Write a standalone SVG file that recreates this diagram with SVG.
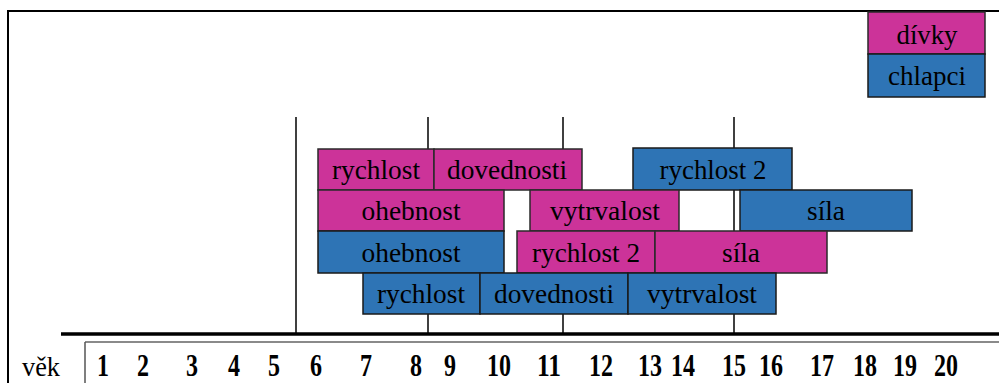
<svg xmlns="http://www.w3.org/2000/svg" width="999" height="383" viewBox="0 0 999 383">
<style>
.g{fill:#CC3399;stroke:#2a2a2a;stroke-width:1.5}
.b{fill:#2E74B5;stroke:#1a1a1a;stroke-width:1.5}
.t{font-family:"Liberation Serif","Times New Roman","DejaVu Serif",serif;font-size:28px;fill:#000;text-anchor:middle}
.n{font-family:"Liberation Serif","Times New Roman","DejaVu Serif",serif;font-size:31px;font-weight:bold;fill:#000;text-anchor:middle}
.v{stroke:#000;stroke-width:1.5}
</style>
<rect width="999" height="383" fill="#fff"/>
<g id="frame" fill="none">
<path d="M8 383V11H999" stroke="#000" stroke-width="2"/>
<path d="M61 334H999" stroke="#000" stroke-width="3.5"/>
<path d="M85 342H999" stroke="#8a8a8a" stroke-width="2"/>
<path d="M85 342V383" stroke="#555" stroke-width="1.5"/>
</g>
<g id="connectors">
<line class="v" x1="296" y1="117" x2="296" y2="333"/>
<line class="v" x1="428" y1="117" x2="428" y2="333"/>
<line class="v" x1="563" y1="117" x2="563" y2="333"/>
<line class="v" x1="734" y1="117" x2="734" y2="333"/>
</g>
<g id="legend-divky"><rect class="g" x="868" y="12" width="117" height="42"/><text class="t" x="927" y="44" textLength="61" lengthAdjust="spacingAndGlyphs">dívky</text></g>
<g id="legend-chlapci"><rect class="b" x="868" y="54" width="117" height="43"/><text class="t" x="927" y="85" textLength="78" lengthAdjust="spacingAndGlyphs">chlapci</text></g>
<g id="d-rychlost"><rect class="g" x="318" y="149" width="116" height="41"/><text class="t" x="376" y="179" textLength="88" lengthAdjust="spacingAndGlyphs">rychlost</text></g>
<g id="d-dovednosti"><rect class="g" x="434" y="149" width="148" height="41"/><text class="t" x="507" y="179" textLength="120" lengthAdjust="spacingAndGlyphs">dovednosti</text></g>
<g id="c-rychlost2"><rect class="b" x="633" y="148" width="159" height="42"/><text class="t" x="713" y="179" textLength="107" lengthAdjust="spacingAndGlyphs">rychlost 2</text></g>
<g id="d-ohebnost"><rect class="g" x="318" y="190" width="186" height="41"/><text class="t" x="411" y="220" textLength="99" lengthAdjust="spacingAndGlyphs">ohebnost</text></g>
<g id="d-vytrvalost"><rect class="g" x="530" y="190" width="149" height="41"/><text class="t" x="605" y="220" textLength="110" lengthAdjust="spacingAndGlyphs">vytrvalost</text></g>
<g id="c-sila"><rect class="b" x="740" y="190" width="172" height="41"/><text class="t" x="826" y="220" textLength="38" lengthAdjust="spacingAndGlyphs">síla</text></g>
<g id="c-ohebnost"><rect class="b" x="318" y="231" width="186" height="42"/><text class="t" x="411" y="262" textLength="99" lengthAdjust="spacingAndGlyphs">ohebnost</text></g>
<g id="d-rychlost2"><rect class="g" x="517" y="231" width="138" height="42"/><text class="t" x="586" y="262" textLength="108" lengthAdjust="spacingAndGlyphs">rychlost 2</text></g>
<g id="d-sila"><rect class="g" x="655" y="231" width="172" height="42"/><text class="t" x="741" y="262" textLength="38" lengthAdjust="spacingAndGlyphs">síla</text></g>
<g id="c-rychlost"><rect class="b" x="363" y="273" width="117" height="41"/><text class="t" x="421" y="303" textLength="88" lengthAdjust="spacingAndGlyphs">rychlost</text></g>
<g id="c-dovednosti"><rect class="b" x="480" y="273" width="148" height="41"/><text class="t" x="554" y="303" textLength="120" lengthAdjust="spacingAndGlyphs">dovednosti</text></g>
<g id="c-vytrvalost"><rect class="b" x="628" y="273" width="148" height="41"/><text class="t" x="702" y="303" textLength="110" lengthAdjust="spacingAndGlyphs">vytrvalost</text></g>
<g id="axis-labels">
<text class="t" x="41" y="376" textLength="38" lengthAdjust="spacingAndGlyphs">věk</text>
<text class="n" x="103" y="376" textLength="12" lengthAdjust="spacingAndGlyphs">1</text>
<text class="n" x="143" y="376" textLength="12" lengthAdjust="spacingAndGlyphs">2</text>
<text class="n" x="192" y="376" textLength="12" lengthAdjust="spacingAndGlyphs">3</text>
<text class="n" x="234" y="376" textLength="12" lengthAdjust="spacingAndGlyphs">4</text>
<text class="n" x="274" y="376" textLength="12" lengthAdjust="spacingAndGlyphs">5</text>
<text class="n" x="316" y="376" textLength="12" lengthAdjust="spacingAndGlyphs">6</text>
<text class="n" x="366" y="376" textLength="12" lengthAdjust="spacingAndGlyphs">7</text>
<text class="n" x="416" y="376" textLength="12" lengthAdjust="spacingAndGlyphs">8</text>
<text class="n" x="450" y="376" textLength="12" lengthAdjust="spacingAndGlyphs">9</text>
<text class="n" x="499" y="376" textLength="24" lengthAdjust="spacingAndGlyphs">10</text>
<text class="n" x="549" y="376" textLength="24" lengthAdjust="spacingAndGlyphs">11</text>
<text class="n" x="601" y="376" textLength="24" lengthAdjust="spacingAndGlyphs">12</text>
<text class="n" x="650" y="376" textLength="24" lengthAdjust="spacingAndGlyphs">13</text>
<text class="n" x="683" y="376" textLength="24" lengthAdjust="spacingAndGlyphs">14</text>
<text class="n" x="734" y="376" textLength="24" lengthAdjust="spacingAndGlyphs">15</text>
<text class="n" x="771" y="376" textLength="24" lengthAdjust="spacingAndGlyphs">16</text>
<text class="n" x="822" y="376" textLength="24" lengthAdjust="spacingAndGlyphs">17</text>
<text class="n" x="865" y="376" textLength="24" lengthAdjust="spacingAndGlyphs">18</text>
<text class="n" x="905" y="376" textLength="24" lengthAdjust="spacingAndGlyphs">19</text>
<text class="n" x="946" y="376" textLength="24" lengthAdjust="spacingAndGlyphs">20</text>
</g>
</svg>
